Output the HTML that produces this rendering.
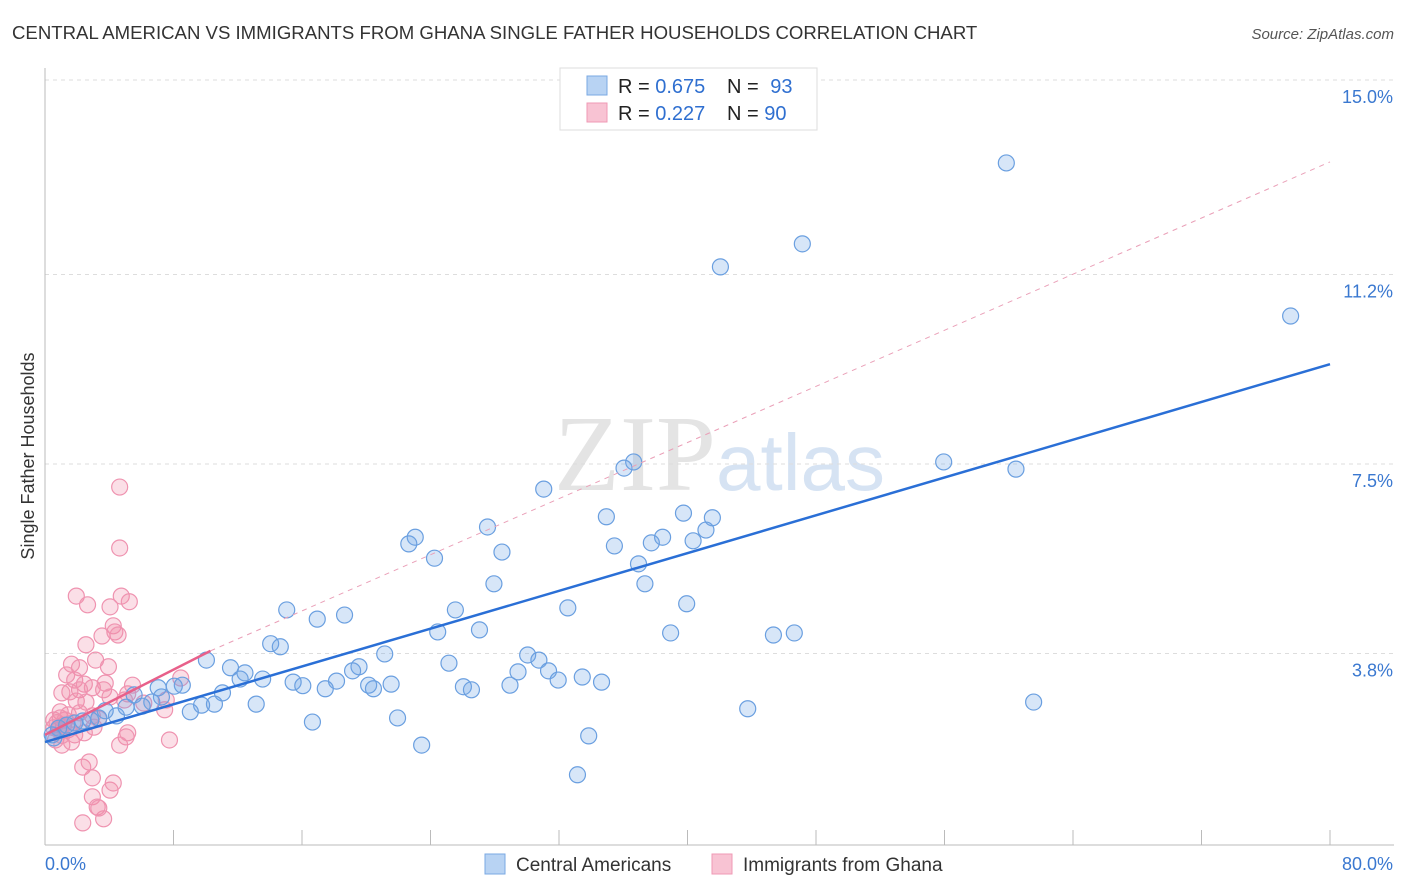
<!DOCTYPE html>
<html><head><meta charset="utf-8"><style>
body{margin:0;background:#fff;font-family:"Liberation Sans",sans-serif;}
svg{display:block}
</style></head><body>
<svg id="chart" width="1406" height="892">
<text x="12" y="39" font-size="18.6" fill="#333">CENTRAL AMERICAN VS IMMIGRANTS FROM GHANA SINGLE FATHER HOUSEHOLDS CORRELATION CHART</text>
<text x="1394" y="39" font-size="15" fill="#555" font-style="italic" text-anchor="end">Source: ZipAtlas.com</text>
<text x="716" y="490" font-size="108" fill="#e4e4e4" text-anchor="end" font-family="Liberation Serif">ZIP</text>
<text x="716" y="490" font-size="80" fill="#d6e3f3">atlas</text>
<g id="grid"></g>
<g id="axes"></g>
<g id="pts"></g>
<g id="lines"></g>
<text transform="translate(34,456) rotate(-90)" font-size="18" fill="#333" text-anchor="middle">Single Father Households</text>
<g>
<rect x="560" y="68" width="257" height="62" fill="#fff" stroke="#ddd"/>
<rect x="587" y="76" width="20" height="19" fill="#b8d3f3" stroke="#7aa8e3"/>
<rect x="587" y="103" width="20" height="19" fill="#f8c3d3" stroke="#ef9ab4"/>
<text x="618" y="93" font-size="20" fill="#222">R = <tspan fill="#2f6fd0">0.675</tspan></text>
<text x="727" y="93" font-size="20" fill="#222">N = <tspan fill="#2f6fd0" dx="6">93</tspan></text>
<text x="618" y="120" font-size="20" fill="#222">R = <tspan fill="#2f6fd0">0.227</tspan></text>
<text x="727" y="120" font-size="20" fill="#222">N = <tspan fill="#2f6fd0">90</tspan></text>
</g>
<g>
<rect x="485" y="854" width="20" height="20" fill="#b8d3f3" stroke="#7aa8e3"/>
<text x="516" y="871" font-size="19" fill="#333">Central Americans</text>
<rect x="712" y="854" width="20" height="20" fill="#f8c3d3" stroke="#ef9ab4"/>
<text x="743" y="871" font-size="19" fill="#333">Immigrants from Ghana</text>
</g>
</svg>
<script>
const yTicks=[3.8,7.5,11.2,15.0];
const yTickLabels=["3.8%","7.5%","11.2%","15.0%"];
const xTickCount=10;
const xLabels=["0.0%","80.0%"];
const blueX=[59.6,46.9,41.8,77.3,55.7,60.2,36.4,35.8,30.8,27.3,34.7,39.5,41.3,40.9,40.1,38.2,37.5,35.2,28.2,22.8,22.4,24.0,36.7,27.7,37.1,32.3,39.7,25.3,14.8,16.7,18.4,24.2,26.8,38.7,45.1,46.4,13.8,14.4,20.9,9.8,29.8,30.5,24.9,19.3,18.9,11.3,12.2,11.9,13.3,15.2,17.9,15.8,17.2,19.9,20.2,21.3,25.8,26.3,28.7,29.2,31.1,31.7,33.2,34.4,10.8,12.9,10.3,9.5,8.8,6.8,7.8,8.3,7.0,5.3,6.4,5.8,4.8,4.2,3.5,3.1,2.6,2.1,1.6,1.1,0.6,0.3,0.2,16.4,21.7,23.2,33.6,43.5,61.3,32.9];
const blueY=[13.38,11.80,11.35,10.39,7.54,7.40,7.54,7.42,7.01,6.27,6.47,6.54,6.45,6.21,6.00,6.07,5.96,5.90,5.78,6.07,5.94,5.66,5.55,5.16,5.16,4.69,4.77,4.65,4.65,4.47,4.55,4.22,4.26,4.20,4.16,4.20,3.99,3.93,3.79,3.67,3.77,3.67,3.61,3.54,3.46,3.52,3.42,3.30,3.30,3.24,3.26,3.17,3.11,3.18,3.11,3.20,3.15,3.09,3.18,3.44,3.46,3.28,3.34,3.24,3.03,2.81,2.81,2.79,2.66,3.13,3.16,3.18,2.95,2.99,2.85,2.77,2.75,2.58,2.68,2.54,2.50,2.48,2.44,2.40,2.34,2.15,2.21,2.46,2.54,2.01,2.19,2.72,2.85,1.43];
const pinkX=[1.7,2.4,4.5,5.0,3.8,4.4,4.4,4.0,4.1,4.3,3.3,2.3,2.9,3.7,1.4,1.9,1.1,1.6,2.2,2.7,1.9,1.3,0.8,0.7,1.7,2.3,3.4,3.5,4.9,5.2,3.8,4.7,5.9,7.2,8.2,7.3,0.7,0.9,1.2,1.6,0.4,0.8,1.4,0.3,0.6,1.9,2.7,3.1,2.8,2.2,4.9,4.8,7.5,2.1,2.5,2.7,2.7,3.0,3.8,4.0,2.1,3.4,3.1,4.4,0.5,1.0,0.3,1.2,0.8,1.5];
const pinkY=[4.92,4.75,4.92,4.81,4.71,7.05,5.86,4.34,4.22,4.16,4.14,3.97,3.67,3.54,3.59,3.52,3.38,3.28,3.20,3.13,3.09,3.05,3.03,2.66,2.87,2.85,3.09,3.22,3.01,3.18,2.95,2.89,2.83,2.70,3.32,2.89,2.54,2.40,2.31,2.21,2.11,2.01,2.07,2.50,2.31,2.64,2.58,2.52,2.36,2.25,2.25,2.17,2.11,1.58,1.68,1.37,1.00,0.80,1.13,1.27,0.49,0.57,0.78,2.01,2.45,2.50,2.35,2.60,2.20,2.45];
const blueLine=[[0,2.07],[80,9.45]];
const pinkLine=[[0,2.21],[10.3,3.85]];
const pinkDash=[[10.3,3.85],[80,13.4]];
const X0=45,X1=1330,Y0=848,PPY=51.2,PX=4;
const sx=v=>X0+v*(X1-X0)/80, sy=v=>Y0-v*PPY;
const NS="http://www.w3.org/2000/svg";
function mk(tag,attrs,parent){const e=document.createElementNS(NS,tag);for(const k in attrs)e.setAttribute(k,attrs[k]);parent.appendChild(e);return e;}
const grid=document.getElementById('grid'),axes=document.getElementById('axes'),pts=document.getElementById('pts'),lines=document.getElementById('lines');
yTicks.forEach((t,i)=>{
 const g=mk('line',{x1:X0,x2:1394,y1:sy(t),y2:sy(t),stroke:'#ddd','stroke-dasharray':'4,4'},grid);
 
 
 const tx=mk('text',{x:1393,y:sy(t)+23,'font-size':18,fill:'#3a78d0','text-anchor':'end'},axes);
 tx.textContent=yTickLabels[i];
 
 
});
const ya=mk('line',{x1:X0,x2:X0,y1:68,y2:845,stroke:'#bbb'},axes);


const xa=mk('line',{x1:X0,x2:1394,y1:845,y2:845,stroke:'#bbb'},axes);


for(let i=1;i<=xTickCount;i++){const x=sx(i*80/xTickCount);
 const t=mk('line',{x1:x,x2:x,y1:830,y2:845,stroke:'#bbb'},axes);
 
 }
const xl0=mk('text',{x:45,y:870,'font-size':18,fill:'#3a78d0'},axes);xl0.textContent=xLabels[0];


const xl1=mk('text',{x:1393,y:870,'font-size':18,fill:'#3a78d0','text-anchor':'end'},axes);xl1.textContent=xLabels[1];


pinkX.forEach((v,i)=>{const c=mk('circle',{cx:sx(v)+PX,cy:sy(pinkY[i]),r:8,fill:'rgba(242,140,170,0.28)',stroke:'#ef93b0','stroke-width':1.2},pts);
 
 });
blueX.forEach((v,i)=>{const c=mk('circle',{cx:sx(v)+PX,cy:sy(blueY[i]),r:8,fill:'rgba(110,165,230,0.28)',stroke:'#6a9fe0','stroke-width':1.2},pts);
 
 });
const pd=mk('line',{x1:sx(pinkDash[0][0]),y1:sy(pinkDash[0][1]),x2:sx(pinkDash[1][0]),y2:sy(pinkDash[1][1]),stroke:'#eaa0b8','stroke-dasharray':'5,5'},lines);


const pl=mk('line',{x1:sx(pinkLine[0][0]),y1:sy(pinkLine[0][1]),x2:sx(pinkLine[1][0]),y2:sy(pinkLine[1][1]),stroke:'#e8608a','stroke-width':2.5},lines);


const bl=mk('line',{x1:sx(blueLine[0][0]),y1:sy(blueLine[0][1]),x2:sx(blueLine[1][0]),y2:sy(blueLine[1][1]),stroke:'#2a6fd6','stroke-width':2.5},lines);


</script>
</body></html>
